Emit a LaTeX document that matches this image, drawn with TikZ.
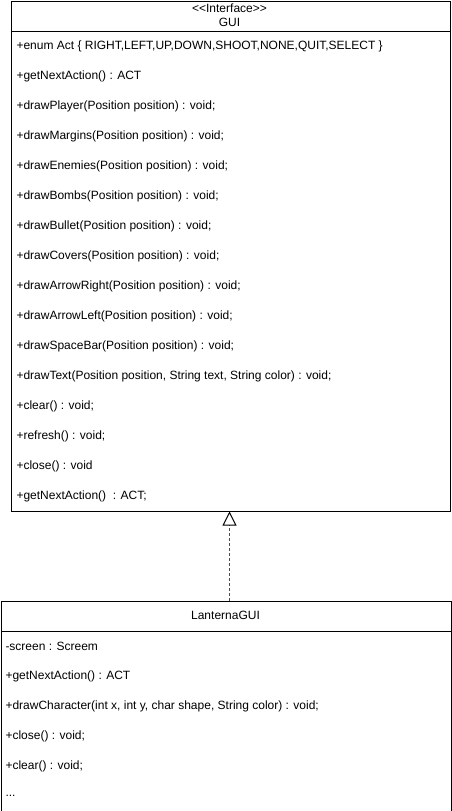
\documentclass[tikz,border=0pt]{standalone}
\usepackage{fontspec}
\setmainfont{Liberation Sans}
\usetikzlibrary{arrows.meta}
\begin{document}
\begin{tikzpicture}
	[x=1pt, y=-1pt, line width=1pt, font=\fontsize{12}{14}\selectfont,
	box/.style ={draw, rectangle, inner sep = 0pt, anchor = north west},
	member/.style ={anchor = west, inner sep = 0pt}]
	\useasboundingbox (0,0) rectangle (451,811);
	% interface
	\node[box, minimum width = 439pt, minimum height = 30.5pt] (guihead) at (10.5,0.5) {};
	\node[box, minimum width = 439pt, minimum height = 479.5pt] (guibody) at (10.5,31) {};
	\node[inner sep = 0pt, align = center] (guiname) at (229.5,15.5) {{<}{<}Interface{>}{>}\\GUI};
	\foreach \i/\t in {1/{+enum Act \{ RIGHT,LEFT,UP,DOWN,SHOOT,NONE,QUIT,SELECT \}},
		2/{+getNextAction() : ACT},
		3/{+drawPlayer(Position position) : void;},
		4/{+drawMargins(Position position) : void;},
		5/{+drawEnemies(Position position) : void;},
		6/{+drawBombs(Position position) : void;},
		7/{+drawBullet(Position position) : void;},
		8/{+drawCovers(Position position) : void;},
		9/{+drawArrowRight(Position position) : void;},
		10/{+drawArrowLeft(Position position) : void;},
		11/{+drawSpaceBar(Position position) : void;},
		12/{+drawText(Position position, String text, String color) : void;},
		13/{+clear() : void;},
		14/{+refresh() : void;},
		15/{+close() : void},
		16/{+getNextAction() \ : ACT;}}
		\node[member] (g\i) at (16,{16+30*\i}) {\t};
	% implementation
	\node[box, minimum width = 450pt, minimum height = 30pt] (lanhead) at (0.5,600.5) {};
	\node[box, minimum width = 450pt, minimum height = 180pt] (lanbody) at (0.5,630.5) {};
	\node (lanname) at (225.5,615.5) {LanternaGUI};
	\foreach \i/\t in {1/{-screen : Screem},
		2/{+getNextAction() : ACT},
		3/{+drawCharacter(int x, int y, char shape, String color) : void;},
		4/{+close() : void;},
		5/{+clear() : void;},
		6/{...}}
		\node[member] (l\i) at (5,{616+30*\i}) {\t};
	\draw[-{Triangle[open, width = 14pt, length = 14pt, color = black]}, draw = black!70, dash pattern = on 3pt off 2pt]
	(lanhead.north -| guiname) -- (guibody.south -| guiname);
\end{tikzpicture}
\end{document}
